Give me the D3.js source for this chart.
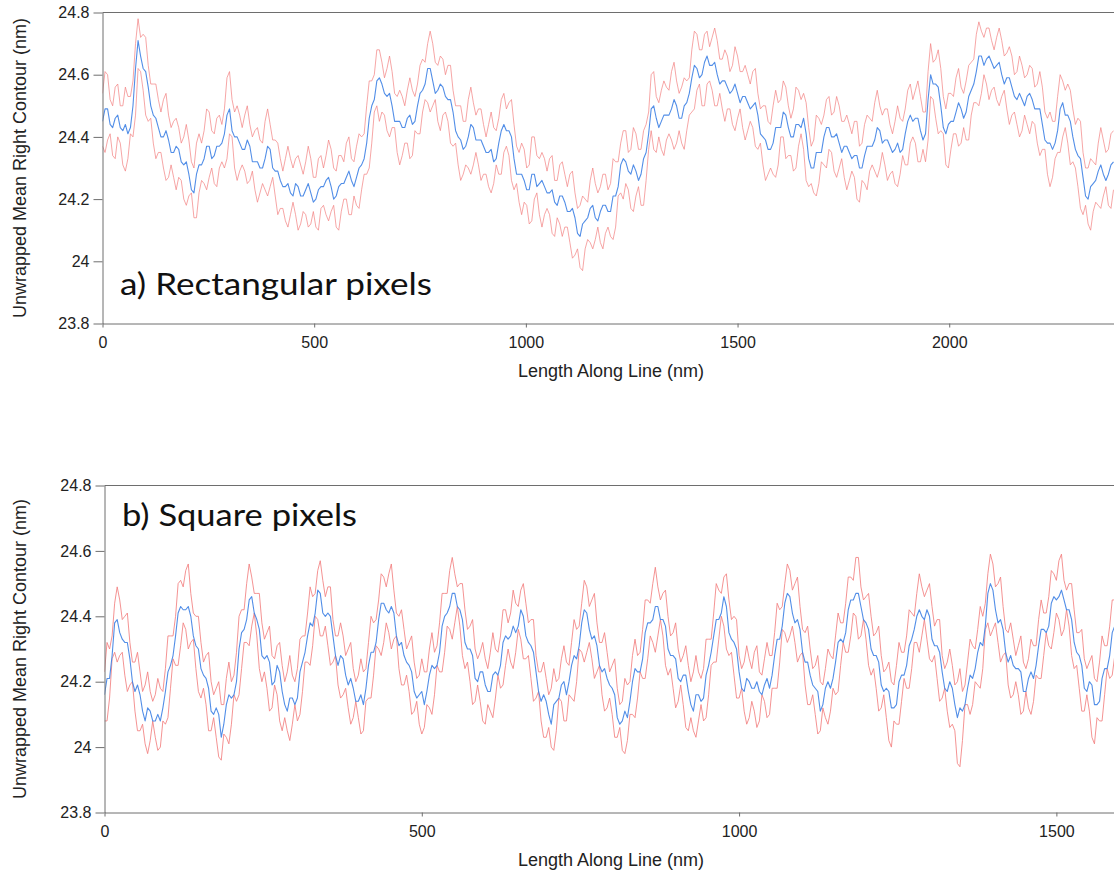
<!DOCTYPE html>
<html>
<head>
<meta charset="utf-8">
<script src="https://cdn.jsdelivr.net/npm/d3@7"></script>
<style>
  body { margin: 0; background: #fff; }
  svg { display: block; }
</style>
</head>
<body>
<svg id="chart" width="1114" height="875"></svg>
<script>
// Panel a: rectangular pixels, one sample every 6 nm along the line
const rectStepNm = 6;
const rectMean = [
  24.45,24.49,24.49,24.44,24.43,24.46,24.47,24.43,24.42,24.44,24.41,24.43,24.50,24.62,24.71,24.66,24.62,24.61,24.56,24.50,
  24.47,24.46,24.43,24.40,24.40,24.42,24.39,24.35,24.35,24.37,24.36,24.32,24.31,24.32,24.28,24.23,24.22,24.28,24.31,24.31,
  24.33,24.37,24.37,24.33,24.34,24.37,24.37,24.38,24.41,24.47,24.49,24.42,24.40,24.40,24.38,24.36,24.36,24.39,24.37,24.32,
  24.32,24.32,24.30,24.30,24.33,24.37,24.36,24.30,24.29,24.29,24.26,24.24,24.24,24.25,24.22,24.21,24.25,24.24,24.21,24.21,
  24.23,24.25,24.22,24.19,24.20,24.23,24.24,24.24,24.26,24.27,24.24,24.20,24.21,24.24,24.25,24.25,24.27,24.29,24.26,24.24,
  24.27,24.30,24.31,24.33,24.38,24.46,24.50,24.52,24.58,24.59,24.57,24.54,24.53,24.54,24.50,24.45,24.45,24.45,24.43,24.43,
  24.46,24.47,24.44,24.45,24.50,24.54,24.55,24.57,24.62,24.62,24.58,24.54,24.55,24.57,24.56,24.53,24.52,24.52,24.48,24.42,
  24.40,24.39,24.36,24.37,24.40,24.44,24.43,24.39,24.39,24.39,24.37,24.35,24.35,24.36,24.32,24.33,24.38,24.42,24.44,24.42,
  24.42,24.40,24.33,24.28,24.28,24.28,24.26,24.23,24.23,24.28,24.28,24.24,24.25,24.26,24.24,24.22,24.22,24.23,24.19,24.18,
  24.21,24.21,24.19,24.16,24.16,24.17,24.14,24.09,24.08,24.12,24.13,24.14,24.17,24.18,24.14,24.13,24.16,24.18,24.18,24.16,
  24.16,24.21,24.21,24.24,24.31,24.33,24.32,24.29,24.28,24.31,24.29,24.26,24.28,24.33,24.35,24.41,24.49,24.50,24.46,24.43,
  24.45,24.47,24.47,24.47,24.49,24.52,24.50,24.46,24.46,24.50,24.51,24.54,24.59,24.63,24.62,24.59,24.60,24.64,24.66,24.63,
  24.63,24.64,24.60,24.57,24.58,24.58,24.56,24.54,24.55,24.57,24.54,24.51,24.53,24.53,24.51,24.49,24.50,24.51,24.47,24.41,
  24.40,24.39,24.36,24.36,24.38,24.43,24.43,24.43,24.48,24.47,24.43,24.40,24.40,24.44,24.44,24.43,24.46,24.41,24.33,24.30,
  24.30,24.35,24.35,24.35,24.40,24.43,24.43,24.40,24.40,24.41,24.38,24.35,24.37,24.37,24.35,24.33,24.34,24.34,24.30,24.30,
  24.34,24.37,24.37,24.37,24.39,24.43,24.42,24.38,24.39,24.39,24.37,24.35,24.36,24.38,24.35,24.36,24.41,24.45,24.47,24.45,
  24.46,24.46,24.42,24.39,24.41,24.52,24.60,24.57,24.57,24.56,24.50,24.43,24.41,24.44,24.45,24.45,24.48,24.51,24.49,24.46,
  24.48,24.53,24.55,24.57,24.61,24.66,24.66,24.63,24.65,24.66,24.64,24.62,24.63,24.64,24.60,24.57,24.59,24.59,24.56,24.53,
  24.52,24.54,24.52,24.50,24.53,24.54,24.52,24.49,24.49,24.49,24.44,24.39,24.38,24.38,24.36,24.38,24.42,24.49,24.51,24.47,
  24.47,24.45,24.40,24.36,24.34,24.33,24.27,24.21,24.20,24.24,24.25,24.26,24.29,24.31,24.28,24.26,24.28,24.31,24.32
];
const rectUpper = [
  24.54,24.61,24.60,24.52,24.50,24.56,24.57,24.50,24.50,24.56,24.53,24.53,24.58,24.70,24.78,24.72,24.73,24.72,24.63,24.57,
  24.57,24.57,24.52,24.48,24.52,24.54,24.47,24.43,24.45,24.46,24.43,24.38,24.40,24.44,24.39,24.32,24.30,24.38,24.41,24.38,
  24.42,24.49,24.48,24.42,24.41,24.46,24.47,24.44,24.49,24.59,24.61,24.52,24.48,24.50,24.47,24.43,24.47,24.50,24.44,24.40,
  24.42,24.43,24.39,24.38,24.45,24.49,24.44,24.39,24.39,24.38,24.33,24.29,24.33,24.37,24.33,24.30,24.33,24.34,24.31,24.28,
  24.32,24.37,24.33,24.27,24.27,24.33,24.34,24.30,24.34,24.39,24.36,24.30,24.29,24.34,24.34,24.32,24.38,24.40,24.33,24.32,
  24.37,24.41,24.40,24.41,24.50,24.58,24.58,24.60,24.68,24.68,24.64,24.59,24.62,24.66,24.61,24.54,24.53,24.55,24.53,24.50,
  24.55,24.59,24.55,24.53,24.57,24.63,24.65,24.64,24.70,24.74,24.70,24.64,24.63,24.66,24.65,24.60,24.63,24.63,24.55,24.50,
  24.50,24.50,24.45,24.45,24.52,24.56,24.51,24.47,24.49,24.49,24.44,24.40,24.44,24.48,24.43,24.42,24.46,24.52,24.54,24.49,
  24.51,24.52,24.44,24.37,24.35,24.38,24.36,24.30,24.31,24.40,24.40,24.34,24.33,24.35,24.33,24.29,24.33,24.34,24.26,24.26,
  24.31,24.32,24.28,24.24,24.28,24.29,24.22,24.17,24.18,24.21,24.20,24.19,24.26,24.30,24.25,24.22,24.24,24.28,24.28,24.23,
  24.25,24.33,24.32,24.32,24.38,24.42,24.42,24.35,24.36,24.43,24.41,24.36,24.36,24.42,24.44,24.48,24.60,24.61,24.53,24.51,
  24.55,24.58,24.56,24.55,24.61,24.64,24.58,24.54,24.56,24.59,24.58,24.59,24.68,24.74,24.73,24.68,24.68,24.73,24.74,24.69,
  24.72,24.75,24.71,24.65,24.65,24.68,24.66,24.61,24.63,24.69,24.66,24.61,24.61,24.63,24.60,24.57,24.61,24.62,24.54,24.49,
  24.50,24.50,24.45,24.44,24.50,24.55,24.51,24.52,24.58,24.56,24.50,24.46,24.49,24.56,24.55,24.52,24.54,24.51,24.43,24.37,
  24.39,24.47,24.46,24.44,24.47,24.52,24.53,24.47,24.48,24.53,24.50,24.45,24.45,24.47,24.44,24.41,24.45,24.45,24.37,24.38,
  24.44,24.47,24.46,24.45,24.51,24.55,24.50,24.47,24.49,24.49,24.44,24.41,24.45,24.50,24.46,24.45,24.49,24.55,24.57,24.52,
  24.55,24.58,24.53,24.48,24.48,24.61,24.70,24.64,24.65,24.68,24.62,24.53,24.49,24.54,24.54,24.53,24.59,24.62,24.56,24.54,
  24.58,24.63,24.64,24.65,24.73,24.77,24.74,24.72,24.75,24.75,24.71,24.68,24.72,24.75,24.71,24.66,24.67,24.69,24.66,24.60,
  24.61,24.66,24.63,24.59,24.60,24.63,24.62,24.56,24.57,24.61,24.56,24.48,24.46,24.48,24.45,24.45,24.53,24.60,24.58,24.55,
  24.57,24.55,24.49,24.44,24.46,24.45,24.35,24.30,24.30,24.33,24.32,24.31,24.38,24.43,24.39,24.35,24.36,24.41,24.42
];
const rectLower = [
  24.37,24.35,24.39,24.41,24.34,24.33,24.40,24.38,24.31,24.29,24.33,24.41,24.40,24.47,24.62,24.61,24.55,24.47,24.45,24.46,
  24.38,24.33,24.35,24.35,24.30,24.26,24.27,24.31,24.27,24.23,24.27,24.26,24.20,24.18,24.21,24.22,24.14,24.14,24.22,24.26,
  24.25,24.23,24.27,24.30,24.25,24.24,24.30,24.32,24.30,24.33,24.41,24.40,24.30,24.26,24.29,24.31,24.29,24.25,24.26,24.29,
  24.23,24.19,24.22,24.25,24.23,24.21,24.24,24.27,24.21,24.15,24.17,24.17,24.13,24.11,24.15,24.19,24.15,24.10,24.12,24.16,
  24.15,24.11,24.12,24.16,24.11,24.10,24.17,24.18,24.15,24.13,24.16,24.18,24.11,24.10,24.16,24.20,24.20,24.15,24.15,24.21,
  24.18,24.17,24.23,24.28,24.28,24.30,24.38,24.48,24.50,24.45,24.48,24.47,24.42,24.40,24.43,24.43,24.35,24.31,24.34,24.38,
  24.38,24.33,24.34,24.42,24.41,24.41,24.48,24.52,24.51,24.48,24.50,24.52,24.45,24.42,24.47,24.48,24.45,24.38,24.37,24.38,
  24.31,24.26,24.28,24.31,24.30,24.28,24.31,24.35,24.31,24.26,24.28,24.28,24.24,24.22,24.25,24.31,24.28,24.28,24.35,24.37,
  24.34,24.26,24.23,24.25,24.19,24.15,24.19,24.18,24.12,24.13,24.20,24.22,24.15,24.11,24.15,24.17,24.15,24.09,24.08,24.14,
  24.12,24.08,24.11,24.11,24.06,24.01,24.02,24.04,23.98,23.97,24.04,24.07,24.06,24.04,24.07,24.11,24.06,24.04,24.09,24.11,
  24.08,24.07,24.11,24.21,24.22,24.20,24.25,24.23,24.17,24.16,24.21,24.24,24.18,24.18,24.26,24.36,24.42,24.36,24.35,24.40,
  24.36,24.34,24.39,24.41,24.39,24.36,24.38,24.42,24.38,24.36,24.42,24.47,24.48,24.49,24.55,24.57,24.50,24.50,24.57,24.58,
  24.55,24.50,24.50,24.54,24.49,24.45,24.49,24.49,24.44,24.42,24.46,24.49,24.43,24.39,24.42,24.45,24.43,24.37,24.36,24.38,
  24.31,24.26,24.28,24.30,24.28,24.27,24.31,24.40,24.40,24.33,24.34,24.34,24.29,24.30,24.37,24.41,24.36,24.26,24.24,24.25,
  24.22,24.21,24.25,24.32,24.31,24.30,24.36,24.35,24.29,24.27,24.30,24.33,24.27,24.23,24.26,24.29,24.27,24.20,24.19,24.26,
  24.25,24.23,24.29,24.31,24.29,24.27,24.30,24.35,24.31,24.26,24.28,24.29,24.25,24.24,24.28,24.34,24.31,24.31,24.38,24.40,
  24.38,24.32,24.32,24.36,24.32,24.39,24.53,24.52,24.46,24.41,24.42,24.41,24.31,24.30,24.36,24.41,24.41,24.37,24.38,24.43,
  24.39,24.39,24.47,24.51,24.51,24.50,24.54,24.60,24.57,24.52,24.55,24.56,24.52,24.50,24.53,24.55,24.49,24.44,24.47,24.48,
  24.44,24.40,24.42,24.47,24.44,24.41,24.45,24.44,24.38,24.34,24.36,24.36,24.28,24.24,24.27,24.33,24.35,24.35,24.40,24.43,
  24.38,24.31,24.32,24.30,24.24,24.17,24.15,24.18,24.12,24.10,24.16,24.19,24.18,24.17,24.21,24.24,24.18,24.17,24.23
];

// Panel b: square pixels, one sample every 4 nm along the line
const squareStepNm = 4;
const squareMean = [
  24.16,24.21,24.21,24.28,24.38,24.39,24.35,24.33,24.32,24.32,24.27,24.20,24.17,24.19,24.16,24.11,24.08,24.12,24.11,24.08,
  24.08,24.10,24.08,24.12,24.17,24.23,24.25,24.28,24.34,24.41,24.43,24.42,24.42,24.43,24.40,24.34,24.31,24.30,24.24,24.22,
  24.21,24.18,24.11,24.10,24.12,24.10,24.03,24.07,24.13,24.16,24.15,24.16,24.20,24.30,24.35,24.36,24.39,24.45,24.46,24.41,
  24.39,24.36,24.28,24.27,24.28,24.26,24.19,24.20,24.25,24.23,24.17,24.13,24.11,24.15,24.15,24.13,24.15,24.23,24.26,24.29,
  24.34,24.38,24.37,24.41,24.48,24.47,24.41,24.40,24.41,24.40,24.34,24.28,24.25,24.28,24.27,24.22,24.19,24.21,24.18,24.14,
  24.14,24.16,24.13,24.18,24.25,24.29,24.29,24.32,24.39,24.44,24.44,24.42,24.41,24.43,24.41,24.34,24.31,24.32,24.28,24.26,
  24.25,24.23,24.17,24.15,24.16,24.17,24.13,24.17,24.22,24.25,24.24,24.25,24.29,24.37,24.40,24.41,24.43,24.47,24.47,24.43,
  24.42,24.39,24.32,24.30,24.30,24.28,24.21,24.20,24.23,24.23,24.19,24.17,24.17,24.22,24.23,24.22,24.25,24.32,24.34,24.33,
  24.34,24.37,24.35,24.37,24.42,24.40,24.34,24.32,24.31,24.29,24.23,24.17,24.14,24.16,24.14,24.10,24.07,24.13,24.14,24.15,
  24.19,24.20,24.16,24.20,24.25,24.28,24.27,24.31,24.38,24.42,24.41,24.36,24.33,24.34,24.31,24.25,24.23,24.24,24.21,24.19,
  24.18,24.16,24.09,24.07,24.08,24.11,24.09,24.14,24.20,24.24,24.23,24.23,24.27,24.35,24.38,24.38,24.39,24.43,24.43,24.39,
  24.39,24.37,24.30,24.28,24.28,24.27,24.21,24.20,24.22,24.22,24.17,24.13,24.11,24.16,24.16,24.14,24.15,24.22,24.25,24.29,
  24.34,24.39,24.39,24.41,24.46,24.43,24.35,24.33,24.32,24.30,24.23,24.18,24.17,24.21,24.20,24.18,24.18,24.20,24.17,24.16,
  24.19,24.21,24.18,24.22,24.28,24.33,24.33,24.37,24.44,24.47,24.46,24.41,24.38,24.39,24.36,24.29,24.26,24.26,24.22,24.19,
  24.18,24.17,24.11,24.13,24.18,24.20,24.18,24.21,24.26,24.32,24.33,24.32,24.35,24.42,24.45,24.45,24.47,24.47,24.43,24.39,
  24.38,24.36,24.30,24.28,24.28,24.26,24.19,24.17,24.18,24.17,24.12,24.12,24.13,24.20,24.22,24.22,24.25,24.31,24.33,24.36,
  24.40,24.42,24.40,24.39,24.42,24.40,24.33,24.31,24.31,24.29,24.23,24.18,24.17,24.20,24.18,24.13,24.09,24.12,24.11,24.13,
  24.18,24.22,24.21,24.24,24.29,24.32,24.31,24.37,24.47,24.50,24.48,24.42,24.38,24.39,24.36,24.29,24.26,24.28,24.25,24.24,
  24.24,24.23,24.17,24.17,24.21,24.23,24.21,24.25,24.31,24.36,24.36,24.35,24.37,24.44,24.46,24.45,24.46,24.48,24.45,24.42,
  24.42,24.39,24.32,24.29,24.28,24.25,24.18,24.17,24.20,24.19,24.13,24.13,24.14,24.21,24.24,24.24,24.28,24.35,24.37
];
const squareUpper = [
  24.23,24.32,24.30,24.34,24.44,24.49,24.45,24.39,24.40,24.41,24.32,24.26,24.26,24.29,24.23,24.17,24.19,24.23,24.17,24.14,
  24.16,24.21,24.18,24.17,24.24,24.34,24.34,24.34,24.40,24.50,24.51,24.49,24.54,24.56,24.47,24.41,24.40,24.40,24.32,24.26,
  24.28,24.29,24.20,24.16,24.18,24.20,24.13,24.13,24.21,24.26,24.20,24.22,24.29,24.40,24.42,24.42,24.50,24.56,24.52,24.47,
  24.47,24.47,24.38,24.33,24.35,24.37,24.28,24.27,24.31,24.32,24.25,24.20,24.23,24.28,24.22,24.20,24.24,24.33,24.34,24.34,
  24.41,24.49,24.46,24.47,24.54,24.57,24.51,24.46,24.49,24.49,24.39,24.34,24.34,24.38,24.34,24.28,24.30,24.32,24.24,24.20,
  24.22,24.27,24.23,24.24,24.32,24.40,24.38,24.39,24.45,24.53,24.52,24.49,24.53,24.56,24.48,24.41,24.40,24.42,24.36,24.30,
  24.32,24.34,24.26,24.21,24.22,24.27,24.23,24.23,24.30,24.35,24.29,24.31,24.38,24.47,24.47,24.47,24.54,24.58,24.53,24.49,
  24.50,24.50,24.42,24.36,24.37,24.39,24.30,24.27,24.29,24.32,24.27,24.24,24.29,24.35,24.30,24.29,24.34,24.42,24.42,24.38,
  24.41,24.48,24.44,24.43,24.48,24.50,24.44,24.38,24.39,24.39,24.28,24.23,24.23,24.26,24.21,24.16,24.18,24.24,24.20,24.21,
  24.27,24.31,24.26,24.25,24.32,24.39,24.36,24.37,24.44,24.51,24.49,24.43,24.45,24.47,24.38,24.32,24.32,24.35,24.29,24.23,
  24.25,24.27,24.18,24.13,24.14,24.21,24.19,24.20,24.28,24.33,24.28,24.29,24.36,24.45,24.45,24.44,24.50,24.55,24.49,24.45,
  24.47,24.48,24.40,24.34,24.35,24.38,24.30,24.26,24.28,24.31,24.25,24.20,24.23,24.28,24.23,24.21,24.24,24.33,24.33,24.33,
  24.41,24.50,24.48,24.47,24.52,24.53,24.45,24.39,24.40,24.39,24.28,24.24,24.26,24.31,24.27,24.24,24.29,24.31,24.23,24.22,
  24.27,24.32,24.28,24.28,24.35,24.44,24.42,24.43,24.50,24.56,24.54,24.48,24.50,24.52,24.43,24.36,24.35,24.37,24.30,24.24,
  24.25,24.28,24.20,24.19,24.24,24.30,24.28,24.27,24.34,24.41,24.38,24.38,24.44,24.52,24.52,24.51,24.58,24.58,24.49,24.45,
  24.46,24.47,24.40,24.34,24.35,24.37,24.28,24.23,24.24,24.26,24.20,24.19,24.25,24.32,24.29,24.29,24.34,24.42,24.41,24.40,
  24.47,24.53,24.49,24.46,24.48,24.50,24.43,24.37,24.39,24.39,24.28,24.24,24.26,24.30,24.25,24.19,24.20,24.24,24.17,24.19,
  24.26,24.33,24.31,24.30,24.36,24.43,24.40,24.44,24.53,24.59,24.56,24.49,24.50,24.52,24.43,24.36,24.35,24.38,24.33,24.28,
  24.31,24.34,24.26,24.24,24.27,24.33,24.31,24.31,24.39,24.45,24.41,24.41,24.46,24.54,24.53,24.51,24.57,24.59,24.51,24.48,
  24.50,24.50,24.42,24.35,24.35,24.36,24.27,24.24,24.26,24.28,24.21,24.20,24.26,24.34,24.31,24.31,24.37,24.45,24.45
];
const squareLower = [
  24.08,24.08,24.15,24.27,24.29,24.26,24.28,24.29,24.22,24.17,24.19,24.20,24.11,24.05,24.05,24.07,24.01,23.98,24.02,24.08,
  24.03,23.99,24.00,24.08,24.07,24.09,24.18,24.27,24.25,24.25,24.31,24.38,24.36,24.30,24.32,24.33,24.24,24.17,24.15,24.18,
  24.13,24.05,24.05,24.09,24.03,23.97,23.96,24.04,24.03,24.01,24.07,24.16,24.14,24.16,24.24,24.32,24.32,24.31,24.37,24.41,
  24.34,24.24,24.20,24.23,24.18,24.11,24.12,24.19,24.16,24.08,24.05,24.09,24.05,24.02,24.07,24.13,24.08,24.10,24.17,24.26,
  24.26,24.25,24.31,24.40,24.39,24.34,24.34,24.37,24.31,24.25,24.26,24.28,24.19,24.15,24.16,24.18,24.12,24.07,24.09,24.14,
  24.09,24.04,24.05,24.14,24.15,24.15,24.22,24.31,24.30,24.28,24.32,24.38,24.35,24.30,24.33,24.34,24.24,24.19,24.19,24.22,
  24.17,24.10,24.11,24.14,24.07,24.04,24.06,24.13,24.12,24.10,24.16,24.25,24.23,24.23,24.29,24.37,24.36,24.33,24.38,24.43,
  24.37,24.28,24.24,24.26,24.20,24.13,24.14,24.19,24.14,24.08,24.07,24.13,24.11,24.09,24.15,24.22,24.18,24.19,24.25,24.30,
  24.26,24.24,24.29,24.36,24.33,24.27,24.27,24.28,24.21,24.14,24.15,24.17,24.08,24.03,24.03,24.06,24.00,23.99,24.05,24.15,
  24.14,24.08,24.08,24.16,24.15,24.14,24.20,24.30,24.29,24.26,24.29,24.32,24.27,24.21,24.23,24.25,24.16,24.11,24.12,24.15,
  24.10,24.03,24.03,24.06,23.99,23.98,24.02,24.10,24.10,24.09,24.15,24.23,24.21,24.21,24.27,24.34,24.32,24.29,24.34,24.39,
  24.34,24.25,24.22,24.24,24.18,24.12,24.14,24.19,24.13,24.06,24.05,24.09,24.05,24.03,24.08,24.13,24.08,24.09,24.16,24.25,
  24.26,24.26,24.33,24.40,24.37,24.30,24.28,24.29,24.22,24.15,24.15,24.18,24.11,24.07,24.09,24.14,24.11,24.06,24.08,24.16,
  24.14,24.09,24.10,24.18,24.18,24.18,24.26,24.36,24.35,24.32,24.34,24.37,24.32,24.26,24.28,24.29,24.19,24.13,24.13,24.16,
  24.10,24.04,24.05,24.12,24.09,24.07,24.11,24.18,24.16,24.17,24.25,24.32,24.29,24.29,24.34,24.41,24.40,24.33,24.34,24.39,
  24.33,24.25,24.22,24.24,24.18,24.11,24.12,24.16,24.09,24.02,24.00,24.08,24.07,24.07,24.14,24.21,24.18,24.18,24.24,24.32,
  24.32,24.29,24.34,24.39,24.33,24.27,24.26,24.28,24.21,24.14,24.15,24.18,24.11,24.06,24.07,24.05,23.95,23.94,24.02,24.13,
  24.13,24.10,24.13,24.20,24.19,24.18,24.24,24.36,24.38,24.34,24.36,24.38,24.32,24.26,24.28,24.29,24.19,24.15,24.16,24.20,
  24.16,24.10,24.11,24.17,24.12,24.10,24.14,24.22,24.21,24.21,24.28,24.35,24.31,24.30,24.35,24.41,24.39,24.34,24.36,24.42,
  24.37,24.28,24.24,24.25,24.18,24.11,24.11,24.16,24.11,24.03,24.01,24.09,24.08,24.08,24.16,24.24,24.21,24.22,24.28
];

// Axis ticks and texts
const yDomain = [23.8, 24.8];
const yTicks = [23.8, 24, 24.2, 24.4, 24.6, 24.8];
const rectXTicks = [0, 500, 1000, 1500, 2000];
const squareXTicks = [0, 500, 1000, 1500];
const rectXMax = 2388;
const squareXMax = 1590;
const panelLabels = ["a) Rectangular pixels", "b) Square pixels"];
const yTitle = "Unwrapped Mean Right Contour (nm)";
const xTitle = "Length Along Line (nm)";

const svg = d3.select("#chart");
const AXIS_COLOR = "#6e6e6e";
const TEXT_COLOR = "#222";
const BOUND_COLOR = "#f28080";
const MEAN_COLOR = "#3f82e4";

function drawPanel(p) {
  const g = svg.append("g");
  const x = d3.scaleLinear().domain([0, p.xMax]).range([p.left, p.right]);
  const y = d3.scaleLinear().domain(yDomain).range([p.bottom, p.top]);

  svg.append("clipPath").attr("id", p.id + "-clip")
    .append("rect")
    .attr("x", p.left).attr("y", p.top)
    .attr("width", p.right - p.left + 1).attr("height", p.bottom - p.top);

  const line = d3.line()
    .x((d, i) => x(i * p.step))
    .y(d => y(d));

  const plot = g.append("g").attr("clip-path", `url(#${p.id}-clip)`);
  [p.upper, p.lower].forEach(s => {
    plot.append("path").datum(s)
      .attr("d", line)
      .attr("fill", "none")
      .attr("stroke", BOUND_COLOR)
      .attr("stroke-opacity", p.boundOpacity)
      .attr("stroke-width", 1)
      .attr("stroke-linejoin", "round");
  });
  plot.append("path").datum(p.mean)
    .attr("d", line)
    .attr("fill", "none")
    .attr("stroke", MEAN_COLOR)
    .attr("stroke-opacity", 0.9)
    .attr("stroke-width", 1.1)
    .attr("stroke-linejoin", "round");

  // left axis
  const yAxis = d3.axisLeft(y).tickValues(yTicks).tickSize(9).tickSizeOuter(0)
    .tickPadding(4).tickFormat(d => String(d));
  const ya = g.append("g").attr("transform", `translate(${p.left},0)`).call(yAxis);

  // bottom axis
  const xAxis = d3.axisBottom(x).tickValues(p.xTicks).tickSize(4).tickSizeOuter(0)
    .tickPadding(9.5).tickFormat(d => String(d));
  const xa = g.append("g").attr("transform", `translate(0,${p.bottom})`).call(xAxis);

  [ya, xa].forEach(a => {
    a.attr("font-family", "'Liberation Sans', Arial, sans-serif").attr("font-size", 16);
    a.selectAll("path, line").attr("stroke", AXIS_COLOR);
    a.selectAll("text").attr("fill", TEXT_COLOR);
  });

  // frame line along the top
  g.append("line")
    .attr("x1", p.left).attr("x2", 1114)
    .attr("y1", p.top).attr("y2", p.top)
    .attr("stroke", AXIS_COLOR);

  // axis titles
  g.append("text")
    .attr("transform", `translate(26,${(p.top + p.bottom) / 2}) rotate(-90)`)
    .attr("text-anchor", "middle")
    .attr("font-family", "'Liberation Sans', Arial, sans-serif")
    .attr("font-size", 18)
    .attr("fill", TEXT_COLOR)
    .text(yTitle);

  g.append("text")
    .attr("x", 611).attr("y", p.bottom + 53)
    .attr("text-anchor", "middle")
    .attr("font-family", "'Liberation Sans', Arial, sans-serif")
    .attr("font-size", 18)
    .attr("fill", TEXT_COLOR)
    .text(xTitle);

  // panel label
  g.append("text")
    .attr("x", p.labelX).attr("y", p.labelY)
    .attr("font-family", "Lato, 'Open Sans', sans-serif")
    .attr("font-size", 30)
    .attr("fill", "#111")
    .attr("textLength", p.labelWidth)
    .attr("lengthAdjust", "spacingAndGlyphs")
    .text(p.label);
}

drawPanel({
  id: "rect", mean: rectMean, upper: rectUpper, lower: rectLower, step: rectStepNm,
  xMax: rectXMax, xTicks: rectXTicks, boundOpacity: 0.7,
  left: 102.5, right: 1113.5, top: 12.5, bottom: 323.5,
  label: panelLabels[0], labelX: 120, labelY: 295, labelWidth: 312
});

drawPanel({
  id: "square", mean: squareMean, upper: squareUpper, lower: squareLower, step: squareStepNm,
  xMax: squareXMax, xTicks: squareXTicks, boundOpacity: 0.85,
  left: 104.5, right: 1113.5, top: 485.5, bottom: 812.5,
  label: panelLabels[1], labelX: 122, labelY: 526, labelWidth: 235
});
</script>
</body>
</html>
